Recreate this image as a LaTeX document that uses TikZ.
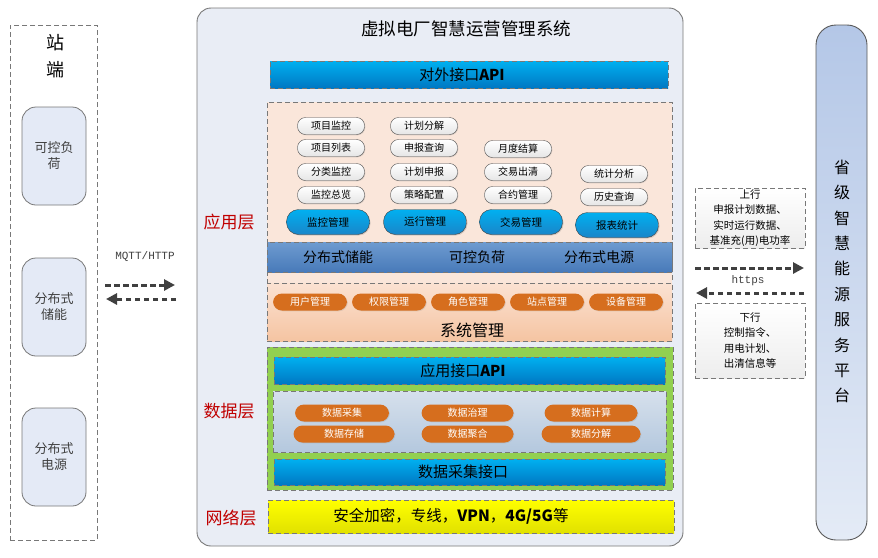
\documentclass[tikz,border=0pt]{standalone}
\usepackage{fontspec}
\setmainfont{Noto Sans CJK SC}
\newfontfamily\monof{Liberation Mono}
\usetikzlibrary{arrows.meta,shadows}
\newcommand\myfs[1]{\fontsize{#1}{#1}\selectfont}
\definecolor{panelfill}{RGB}{233,237,245}
\definecolor{borderg}{RGB}{120,120,120}
\definecolor{devfill}{RGB}{228,234,246}
\definecolor{bluet}{RGB}{0,176,240}
\definecolor{blueb}{RGB}{0,120,195}
\definecolor{bandt}{RGB}{110,155,208}
\definecolor{bandb}{RGB}{72,122,185}
\definecolor{peach}{RGB}{250,230,218}
\definecolor{peacht}{RGB}{251,226,210}
\definecolor{peachb}{RGB}{245,196,162}
\definecolor{orangep}{RGB}{214,110,30}
\definecolor{greenl}{RGB}{146,208,80}
\definecolor{grayblt}{RGB}{214,224,236}
\definecolor{graylbb}{RGB}{180,200,222}
\definecolor{yellowt}{RGB}{255,255,0}
\definecolor{yellowb}{RGB}{225,225,0}
\definecolor{redl}{RGB}{192,0,0}
\definecolor{platt}{RGB}{180,199,231}
\definecolor{platb}{RGB}{228,235,246}
\definecolor{arrowc}{RGB}{64,64,64}
\tikzset{
  box/.style={inner sep=0pt, outer sep=0pt},
  dbox/.style={box, draw=borderg, dashed, dash pattern=on 5pt off 3pt, line width=0.8pt},
  stationbox/.style={dbox, fill=white},
  dev/.style={box, draw=borderg, fill=devfill, rounded corners=14pt, minimum width=64pt, minimum height=98pt, align=center, font=\myfs{13}, text=black!75, line width=0.8pt},
  panel/.style={box, draw=borderg, fill=panelfill, rounded corners=14pt, line width=0.9pt},
  bar/.style={dbox, top color=bluet, bottom color=blueb, font=\myfs{15}},
  wpill/.style={box, draw=black!70, top color=white, bottom color=black!10, rounded corners=8pt, minimum width=67pt, minimum height=17pt, font=\myfs{10}, drop shadow={opacity=0.25, shadow xshift=0.8pt, shadow yshift=-0.8pt}},
  bpill/.style={box, draw=black!75, top color=bluet, bottom color=blueb!90, rounded corners=12pt, minimum width=83pt, minimum height=25pt, font=\myfs{10.5}, drop shadow={opacity=0.3, shadow xshift=1pt, shadow yshift=-1pt}},
  opill/.style={box, fill=orangep, rounded corners=9pt, minimum height=17pt, text=white, font=\myfs{10}, drop shadow={opacity=0.2, shadow xshift=0.8pt, shadow yshift=-0.8pt}},
  layerlbl/.style={text=redl, font=\myfs{17}},
  flow/.style={draw=arrowc, line width=3pt, dash pattern=on 5.5pt off 3.5pt, -{Triangle[length=11pt,width=11pt]}},
  infobox/.style={dbox, top color=white, bottom color=black!7, align=center, font={\fontsize{10.5}{15.5}\selectfont}},
}
\begin{document}
\begin{tikzpicture}[x=1pt,y=-1pt]
\useasboundingbox (0,0) rectangle (878,557);
% ---------- station side ----------
\node[stationbox, minimum width=87pt, minimum height=515pt] (station) at (53.5,282.5) {};
\node[font=\myfs{18}] (stz) at (55,43) {站};
\node[font=\myfs{18}] (std) at (55,70) {端};
\node[dev] (d1) at (54,156) {可控负\\[3pt]荷};
\node[dev] (d2) at (54,307) {分布式\\[3pt]储能};
\node[dev] (d3) at (54,457) {分布式\\[3pt]电源};
% ---------- left arrows ----------
\node[font=\monof\myfs{11}, text=black!75] (mq) at (145,257) {MQTT/HTTP};
\coordinate (la1) at (105,285); \coordinate (la2) at (175,285);
\coordinate (lb1) at (176,299); \coordinate (lb2) at (106,299);
\draw[flow] (la1) -- (la2);
\draw[flow] (lb1) -- (lb2);
% ---------- main panel ----------
\node[panel, minimum width=486pt, minimum height=538pt] (main) at (440,277) {};
\node[font=\myfs{17.5}] (title) at (466,29) {虚拟电厂智慧运营管理系统};
\node[bar, minimum width=398pt, minimum height=27pt] (extapi) at (469,74.5) {};
\node[font=\myfs{15}] (extapit) at (462,74.5) {对外接口\textbf{API}};
% app layer
\node[dbox, fill=peach, minimum width=405pt, minimum height=181pt] (app) at (469.5,192.5) {};
\node[dbox, top color=bandt, bottom color=bandb, minimum width=405pt, minimum height=30pt] (band) at (469.5,257) {};
\node[font=\myfs{14}] (b1) at (338,257) {分布式储能};
\node[font=\myfs{14}] (b2) at (477,257) {可控负荷};
\node[font=\myfs{14}] (b3) at (599,257) {分布式电源};
% small pills col 1
\node[wpill] (p11) at (331,126) {项目监控};
\node[wpill] (p12) at (331,148) {项目列表};
\node[wpill] (p13) at (331,172) {分类监控};
\node[wpill] (p14) at (331,195) {监控总览};
% col 2
\node[wpill] (p21) at (424,126) {计划分解};
\node[wpill] (p22) at (424,148) {申报查询};
\node[wpill] (p23) at (424,172) {计划申报};
\node[wpill] (p24) at (424,195) {策略配置};
% col 3
\node[wpill] (p31) at (518,149) {月度结算};
\node[wpill] (p32) at (518,172) {交易出清};
\node[wpill] (p33) at (518,195) {合约管理};
% col 4
\node[wpill] (p41) at (614,174) {统计分析};
\node[wpill] (p42) at (614,197) {历史查询};
% blue pills
\node[bpill] (m1) at (328,222) {监控管理};
\node[bpill] (m2) at (425,222) {运行管理};
\node[bpill] (m3) at (521,222) {交易管理};
\node[bpill] (m4) at (617,225) {报表统计};
% system management
\node[dbox, top color=peacht, bottom color=peachb, minimum width=405pt, minimum height=58pt] (sys) at (469.5,312) {};
\node[font=\myfs{16}] (systitle) at (472,330) {系统管理};
\node[opill, minimum width=74pt] (s1) at (310,302) {用户管理};
\node[opill, minimum width=74pt] (s2) at (389,302) {权限管理};
\node[opill, minimum width=74pt] (s3) at (468,302) {角色管理};
\node[opill, minimum width=74pt] (s4) at (547,302) {站点管理};
\node[opill, minimum width=74pt] (s5) at (626,302) {设备管理};
% data layer
\node[dbox, fill=greenl, minimum width=406pt, minimum height=143pt] (data) at (470,418.5) {};
\node[bar, minimum width=391pt, minimum height=27pt] (appapi) at (469.5,370.5) {};
\node[font=\myfs{15}] (appapit) at (463,370.5) {应用接口\textbf{API}};
\node[dbox, top color=grayblt, bottom color=graylbb, minimum width=393pt, minimum height=61pt] (inner) at (469.5,421.5) {};
\node[opill, minimum width=94pt] (q1) at (342,413) {数据采集};
\node[opill, minimum width=92pt] (q2) at (467.5,413) {数据治理};
\node[opill, minimum width=93pt] (q3) at (591,413) {数据计算};
\node[opill, minimum width=101pt] (q4) at (344,434) {数据存储};
\node[opill, minimum width=92pt] (q5) at (467.5,434) {数据聚合};
\node[opill, minimum width=99pt] (q6) at (591,434) {数据分解};
\node[bar, minimum width=391pt, minimum height=26pt] (collect) at (469.5,472) {};
\node[font=\myfs{15}] (collectt) at (463,472) {数据采集接口};
% network layer
\node[dbox, top color=yellowt, bottom color=yellowb, minimum width=406pt, minimum height=33pt] (net) at (471,516.5) {};
\node[font=\myfs{15.5}] (nett) at (451,516.5) {安全加密，专线，\textbf{VPN}，\textbf{4G/5G}等};
% layer labels
\node[layerlbl] (lapp) at (229,222) {应用层};
\node[layerlbl] (ldata) at (229,411) {数据层};
\node[layerlbl] (lnet) at (231,518) {网络层};
% ---------- right side ----------
\node[infobox, minimum width=110pt, minimum height=60pt] (up) at (750,218) {上行\\申报计划数据、\\实时运行数据、\\基准充(用)电功率};
\node[infobox, minimum width=110pt, minimum height=75pt] (down) at (750,340.5) {下行\\控制指令、\\用电计划、\\出清信息等};
\node[font=\monof\myfs{11}, text=black!75] (https) at (748,281) {https};
\coordinate (ra1) at (695,268); \coordinate (ra2) at (804,268);
\coordinate (rb1) at (804,293); \coordinate (rb2) at (696,293);
\draw[flow] (ra1) -- (ra2);
\draw[flow] (rb1) -- (rb2);
\node[box, draw=black!65, top color=platt, bottom color=platb, rounded corners=20pt, minimum width=51pt, minimum height=515pt, line width=0.9pt] (plat) at (841.5,282.5) {};
\node[align=center, font={\fontsize{16}{25.4}\selectfont}] (plattext) at (842,281.5) {省\\级\\智\\慧\\能\\源\\服\\务\\平\\台};
\end{tikzpicture}
\end{document}
